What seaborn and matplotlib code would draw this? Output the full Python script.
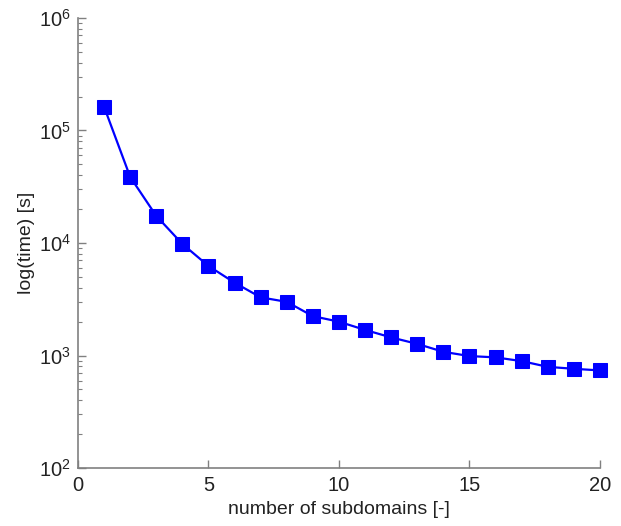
import matplotlib
matplotlib.use("Agg")
import matplotlib.pyplot as plt
import seaborn as sns
import pandas as pd
from matplotlib.ticker import LogLocator, FixedLocator

subdomains = list(range(1, 21))
times = [1.62e5, 3.86e4, 1.74e4, 9.8e3, 6.25e3, 4.44e3, 3.29e3, 3.0e3, 2.24e3, 2.0e3,
         1.69e3, 1.45e3, 1.27e3, 1.08e3, 990, 964, 893, 794, 763, 738]
xticks = [0, 5, 10, 15, 20]

sns.set_style("white")
plt.rcParams['font.family'] = ['Liberation Sans', 'DejaVu Sans']
plt.rcParams['mathtext.fontset'] = 'custom'
plt.rcParams['mathtext.rm'] = 'Liberation Sans'
plt.rcParams['mathtext.it'] = 'Liberation Sans'
plt.rcParams['mathtext.bf'] = 'Liberation Sans'

df = pd.DataFrame({"n": subdomains, "t": times})

fig = plt.figure(figsize=(6.21, 5.26), dpi=100)
ax = fig.add_axes([0.1256, 0.110, 0.8405, 0.856])
sns.lineplot(data=df, x="n", y="t", ax=ax, color=(0, 0, 1), marker="s",
             markersize=10.5, markeredgecolor=(0, 0, 1), linewidth=1.6,
             clip_on=False)
ax.set_yscale("log")
ax.set_ylim(1e2, 1e6)
ax.set_xlim(0, 20)
ax.xaxis.set_major_locator(FixedLocator(xticks))
ax.yaxis.set_major_locator(LogLocator(base=10, numticks=10))
ax.yaxis.set_minor_locator(LogLocator(base=10, subs=range(2, 10), numticks=10))

for s in ["top", "right"]:
    ax.spines[s].set_visible(False)
for s in ["left", "bottom"]:
    ax.spines[s].set_color("#808080")
    ax.spines[s].set_linewidth(1.2)

ax.tick_params(axis="both", which="both", direction="in", color="#808080",
               labelcolor="#222222", labelsize=14.5)
ax.tick_params(which="major", length=6, width=1)
ax.tick_params(which="minor", length=3, width=0.8)
ax.tick_params(axis="y", left=True, which="both", pad=5)
ax.tick_params(axis="x", bottom=True, pad=6)

ax.set_xlabel("number of subdomains [-]", fontsize=14, color="#222222", labelpad=4)
ax.set_ylabel("log(time) [s]", fontsize=14, color="#222222", labelpad=3)

fig.savefig("out.png", dpi=100)
